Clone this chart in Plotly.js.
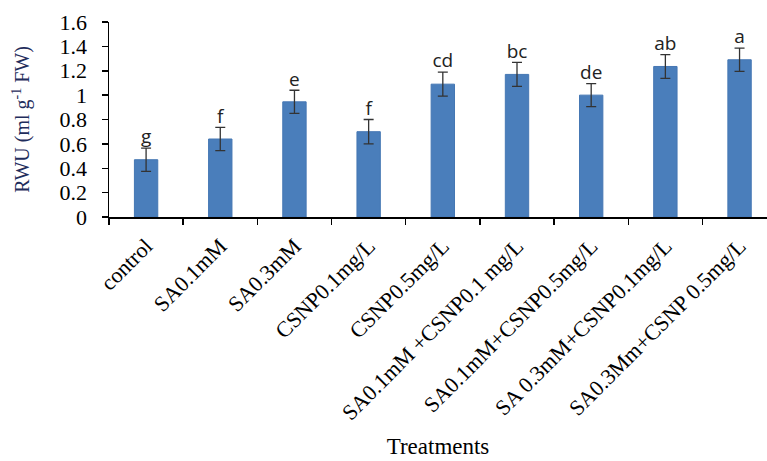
<!DOCTYPE html>
<html>
<head>
<meta charset="utf-8">
<script src="https://cdn.plot.ly/plotly-3.0.1.min.js"></script>
<style>html,body{margin:0;padding:0;background:#fff}#chart{width:767px;height:461px}</style>
</head>
<body>
<div id="chart"></div>
<script>
const treatments = ["control", "SA0.1mM", "SA0.3mM", "CSNP0.1mg/L", "CSNP0.5mg/L",
  "SA0.1mM +CSNP0.1 mg/L", "SA0.1mM+CSNP0.5mg/L", "SA 0.3mM+CSNP0.1mg/L", "SA0.3Mm+CSNP 0.5mg/L"];
const rwu = [0.47, 0.64, 0.945, 0.70, 1.09, 1.17, 1.0, 1.235, 1.29];
const rwuErr = [0.095, 0.095, 0.095, 0.1, 0.098, 0.098, 0.095, 0.098, 0.095];
const letters = ["g", "f", "e", "f", "cd", "bc", "de", "ab", "a"];
const yTicks = [0, 0.2, 0.4, 0.6, 0.8, 1, 1.2, 1.4, 1.6];

const serif = "Liberation Serif, Times New Roman, serif";

const bars = {
  type: "bar",
  x: treatments,
  y: rwu,
  marker: {color: "#4a7ebb", line: {color: "#4577b3", width: 1}},
  error_y: {type: "data", array: rwuErr, visible: true, color: "#333333", thickness: 1.3, width: 5},
  hoverinfo: "skip"
};
const letterTrace = {
  type: "scatter",
  mode: "text",
  x: treatments,
  y: rwu.map((v, i) => v + rwuErr[i]),
  text: letters,
  textposition: "top center",
  textfont: {family: "Open Sans, sans-serif", size: 19, color: "#222222"},
  cliponaxis: false,
  hoverinfo: "skip"
};

const layout = {
  width: 767, height: 461,
  margin: {l: 109, r: 0, t: 22, b: 244},
  showlegend: false,
  bargap: 0.685,
  plot_bgcolor: "#fff", paper_bgcolor: "#fff",
  xaxis: {
    type: "category",
    range: [-0.5, 8.37],
    showline: true, linecolor: "#000", linewidth: 1.5,
    ticks: "outside", tickson: "boundaries", ticklen: 6, tickcolor: "#000", tickwidth: 1.5,
    tickangle: -45,
    ticklabelstandoff: 6,
    tickfont: {family: serif, size: 22, color: "#000"},
    showgrid: false, zeroline: false,
    automargin: false,
    title: {text: "Treatments", font: {family: serif, size: 23, color: "#000"}, standoff: 14}
  },
  yaxis: {
    range: [0, 1.6],
    tickvals: yTicks,
    ticktext: yTicks.map(String),
    showline: true, linecolor: "#000", linewidth: 1.5,
    ticks: "outside", ticklen: 6, tickcolor: "#000", tickwidth: 1.5,
    ticklabelstandoff: 10,
    tickfont: {family: serif, size: 22, color: "#000"},
    showgrid: false, zeroline: false,
    automargin: false,
    title: {text: "RWU (ml g<sup>-1</sup> FW)", font: {family: serif, size: 20, color: "#1f2d5c"}, standoff: 24}
  }
};

Plotly.newPlot("chart", [bars, letterTrace], layout, {displayModeBar: false, staticPlot: true});
</script>
</body>
</html>
